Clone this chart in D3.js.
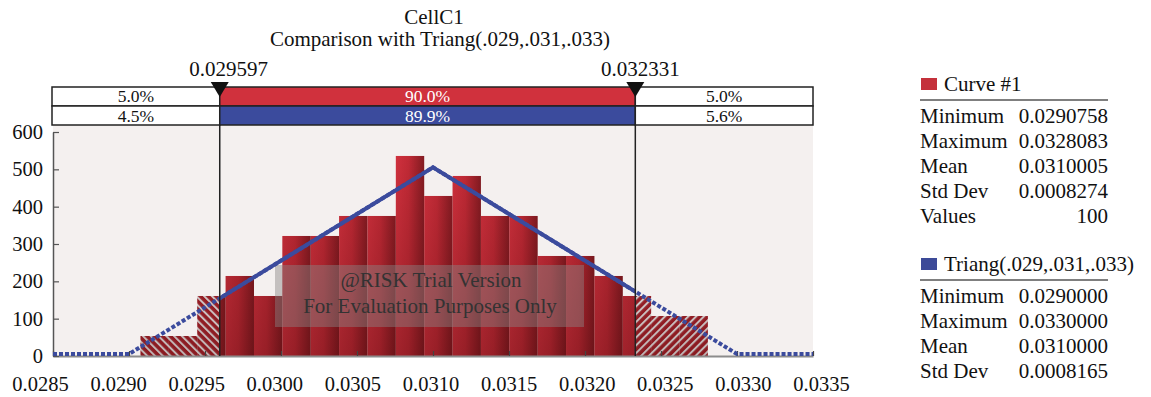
<!DOCTYPE html>
<html>
<head>
<meta charset="utf-8">
<script src="https://cdn.jsdelivr.net/npm/d3@7/dist/d3.min.js"></script>
<style>
    body { margin: 0; background: #fff; }
    svg text { font-family: "Liberation Serif", "Times New Roman", serif; fill: #111; }
</style>
</head>
<body>
<div id="chart"></div>
<script>
// histogram of the 100 simulated values, 20 equal bins between min and max
var binCounts = [1, 1, 3, 4, 3, 6, 6, 7, 7, 10, 8, 9, 7, 7, 5, 5, 4, 3, 2, 2];
var sampleMin = 0.0290758,
    sampleMax = 0.0328083,
    sampleN = 100;

// Triang(.029,.031,.033) density outline
var triangX = [0.0285, 0.029, 0.031, 0.033, 0.0335];
var triangY = [0, 0, 500, 0, 0];

// 5% / 95% delimiters
var cutLow = 0.029597,
    cutHigh = 0.032331;
var bandCurve = ["5.0%", "90.0%", "5.0%"];
var bandTriang = ["4.5%", "89.9%", "5.6%"];

var xTicks = [0.0285, 0.0290, 0.0295, 0.0300, 0.0305, 0.0310, 0.0315, 0.0320, 0.0325, 0.0330, 0.0335];
var yTicks = [0, 100, 200, 300, 400, 500, 600];

var curveStatNames = ["Minimum", "Maximum", "Mean", "Std Dev", "Values"];
var curveStatValues = ["0.0290758", "0.0328083", "0.0310005", "0.0008274", "100"];
var triangStatNames = ["Minimum", "Maximum", "Mean", "Std Dev"];
var triangStatValues = ["0.0290000", "0.0330000", "0.0310000", "0.0008165"];


function renderChart(position) {
    var width = 1151,
        height = 397;

    var svg = d3.select("#" + position)
        .append("svg")
        .attr("width", width)
        .attr("height", height);

    var x = d3.scaleLinear().domain([0.0285, 0.0335]).range([53, 813]);
    // labels in the picture sit a little wider apart than the ticks
    var xLab = d3.scaleLinear().domain([0.0285, 0.0335]).range([40, 821]);
    var y = d3.scaleLinear().domain([0, 600]).range([356, 132]);

    var red = "#d0313d",
        blue = "#3b4b9d";

    var defs = svg.append("defs");

    // bar shading: bright on the left, dark on the right
    var gh = defs.append("linearGradient").attr("id", "barGrad")
        .attr("x1", 0).attr("x2", 1).attr("y1", 0).attr("y2", 0);
    gh.append("stop").attr("offset", "0%").attr("stop-color", "#d5323f");
    gh.append("stop").attr("offset", "45%").attr("stop-color", "#c52b37");
    gh.append("stop").attr("offset", "100%").attr("stop-color", "#861c23");

    // darker towards the base
    var gv = defs.append("linearGradient").attr("id", "baseShade")
        .attr("gradientUnits", "userSpaceOnUse")
        .attr("x1", 0).attr("x2", 0).attr("y1", y(600)).attr("y2", y(0));
    gv.append("stop").attr("offset", "0%").attr("stop-color", "#2a0000").attr("stop-opacity", 0);
    gv.append("stop").attr("offset", "100%").attr("stop-color", "#2a0000").attr("stop-opacity", 0.3);

    function hatch(id, angle) {
        var p = defs.append("pattern").attr("id", id)
            .attr("patternUnits", "userSpaceOnUse")
            .attr("width", 5.5).attr("height", 5.5)
            .attr("patternTransform", "rotate(" + angle + ")");
        p.append("rect").attr("width", 5.5).attr("height", 5.5).attr("fill", "#b3262f");
        p.append("line").attr("x1", 1).attr("x2", 1).attr("y1", 0).attr("y2", 5.5)
            .attr("stroke", "#fff").attr("stroke-width", 2);
    }
    hatch("hatchL", -45);
    hatch("hatchR", 45);

    defs.append("clipPath").attr("id", "midClip")
        .append("rect")
        .attr("x", x(cutLow)).attr("y", 0)
        .attr("width", x(cutHigh) - x(cutLow)).attr("height", height);
    defs.append("clipPath").attr("id", "leftClip")
        .append("rect")
        .attr("x", 0).attr("y", 0)
        .attr("width", x(cutLow)).attr("height", height);
    defs.append("clipPath").attr("id", "rightClip")
        .append("rect")
        .attr("x", x(cutHigh)).attr("y", 0)
        .attr("width", width - x(cutHigh)).attr("height", height);

    // titles
    svg.append("text").attr("x", 434).attr("y", 24)
        .attr("text-anchor", "middle").style("font-size", "21px").text("CellC1");
    svg.append("text").attr("x", 440).attr("y", 46)
        .attr("text-anchor", "middle").style("font-size", "21px")
        .text("Comparison with Triang(.029,.031,.033)");

    // plot background
    svg.append("rect")
        .attr("x", x(0.0285)).attr("y", 125)
        .attr("width", x(0.0335) - x(0.0285)).attr("height", y(0) - 125)
        .attr("fill", "#f4f0ef");

    // histogram bins
    var binW = (sampleMax - sampleMin) / binCounts.length;
    var bins = binCounts.map(function (c, i) {
        return {x0: sampleMin + i * binW, x1: sampleMin + (i + 1) * binW, dens: c / (sampleN * binW)};
    });

    function drawBars(clip, fill) {
        var g = svg.append("g").attr("clip-path", "url(#" + clip + ")");
        g.selectAll("rect.bar")
            .data(bins)
            .enter().append("rect")
            .attr("class", "bar")
            .attr("x", function (d) { return x(d.x0); })
            .attr("width", function (d) { return x(d.x1) - x(d.x0); })
            .attr("y", function (d) { return y(d.dens); })
            .attr("height", function (d) { return y(0) - y(d.dens); })
            .attr("fill", fill);
        g.selectAll("rect.shade")
            .data(bins)
            .enter().append("rect")
            .attr("class", "shade")
            .attr("x", function (d) { return x(d.x0); })
            .attr("width", function (d) { return x(d.x1) - x(d.x0); })
            .attr("y", function (d) { return y(d.dens); })
            .attr("height", function (d) { return y(0) - y(d.dens); })
            .attr("fill", "url(#baseShade)");
    }
    drawBars("leftClip", "url(#hatchL)");
    drawBars("rightClip", "url(#hatchR)");
    drawBars("midClip", "url(#barGrad)");

    // trial watermark
    svg.append("rect")
        .attr("x", 275).attr("y", 265).attr("width", 309).attr("height", 62)
        .attr("fill", "#8a8585").attr("opacity", 0.45);
    svg.append("text").attr("x", 431).attr("y", 287)
        .attr("text-anchor", "middle").style("font-size", "21px").style("fill", "#333")
        .text("@RISK Trial Version");
    svg.append("text").attr("x", 430).attr("y", 313)
        .attr("text-anchor", "middle").style("font-size", "21px").style("fill", "#333")
        .text("For Evaluation Purposes Only");

    // axes
    var xAxis = svg.append("g")
        .attr("transform", "translate(0," + y(0) + ")")
        .call(d3.axisBottom(x).tickValues(xTicks).tickSize(-5).tickSizeOuter(0).tickFormat(""));
    xAxis.select(".domain").attr("stroke", "#8c8c8c").attr("stroke-width", 2);
    xAxis.selectAll(".tick line").attr("stroke", "#444").attr("stroke-width", 1.2);

    var xLabels = svg.append("g")
        .attr("transform", "translate(0," + y(0) + ")")
        .call(d3.axisBottom(xLab).tickValues(xTicks).tickSize(0).tickFormat(d3.format(".4f")));
    xLabels.select(".domain").remove();
    xLabels.selectAll("text").attr("y", 20).style("font-size", "20.5px")
        .style("font-family", "'Liberation Serif', serif").attr("fill", "#111");

    var yAxis = svg.append("g")
        .attr("transform", "translate(" + x(0.0285) + ",0)")
        .call(d3.axisLeft(y).tickValues(yTicks).tickSize(-6).tickSizeOuter(0).tickPadding(10));
    yAxis.select(".domain").attr("stroke", "#555").attr("stroke-width", 1.5);
    yAxis.selectAll(".tick line").attr("stroke", "#555").attr("stroke-width", 1.2);
    yAxis.selectAll("text").style("font-size", "20.5px")
        .style("font-family", "'Liberation Serif', serif").attr("fill", "#111");

    // triangular distribution: dashed outside the delimiters, solid inside
    var pts = triangX.map(function (v, i) { return [v, triangY[i]]; });
    var line = d3.line()
        .x(function (d) { return x(d[0]); })
        .y(function (d) { return y(d[1]) - 2; });
    svg.append("path")
        .attr("d", line(pts))
        .attr("fill", "none")
        .attr("stroke", blue)
        .attr("stroke-width", 4)
        .attr("stroke-dasharray", "4,2");
    svg.append("path")
        .attr("d", line(pts))
        .attr("clip-path", "url(#midClip)")
        .attr("fill", "none")
        .attr("stroke", blue)
        .attr("stroke-width", 4)
        .attr("stroke-linejoin", "round");

    // delimiter lines
    [cutLow, cutHigh].forEach(function (c) {
        svg.append("line")
            .attr("x1", x(c)).attr("x2", x(c))
            .attr("y1", 87).attr("y2", y(0))
            .attr("stroke", "#222").attr("stroke-width", 1.5);
    });

    // percentage band
    var edges = [x(0.0285) - 1, x(cutLow), x(cutHigh), x(0.0335)];
    function bandRow(labels, top, midColor, baseline) {
        for (var i = 0; i < 3; i++) {
            svg.append("rect")
                .attr("x", edges[i]).attr("y", top)
                .attr("width", edges[i + 1] - edges[i]).attr("height", 19)
                .attr("fill", i === 1 ? midColor : "#fff")
                .attr("stroke", "#222").attr("stroke-width", 1.5);
            svg.append("text")
                .attr("x", (edges[i] + edges[i + 1]) / 2).attr("y", baseline)
                .attr("text-anchor", "middle").style("font-size", "17.5px")
                .style("fill", i === 1 ? "#fff" : "#111")
                .text(labels[i]);
        }
    }
    bandRow(bandCurve, 87, red, 102);
    bandRow(bandTriang, 106, blue, 122);

    // delimiter markers
    [cutLow, cutHigh].forEach(function (c, i) {
        var cx = x(c);
        svg.append("path")
            .attr("d", "M" + (cx - 9) + ",82L" + (cx + 9) + ",82L" + cx + ",97Z")
            .attr("fill", "#111");
        svg.append("text")
            .attr("x", cx + (i === 0 ? 9 : 5)).attr("y", 76)
            .attr("text-anchor", "middle").style("font-size", "21px")
            .text(d3.format(".6f")(c));
    });

    // statistics legend
    function statBlock(title, color, names, values, top) {
        var g = svg.append("g").attr("transform", "translate(0," + top + ")");
        g.append("rect").attr("x", 921).attr("y", -13).attr("width", 16).attr("height", 12).attr("fill", color);
        g.append("text").attr("x", 944).attr("y", 0).style("font-size", "21px").text(title);
        g.append("line").attr("x1", 920).attr("x2", 1108).attr("y1", 9).attr("y2", 9)
            .attr("stroke", "#555").attr("stroke-width", 1.5);
        names.forEach(function (n, i) {
            g.append("text").attr("x", 920).attr("y", 32 + i * 25)
                .style("font-size", "21px").text(n);
            g.append("text").attr("x", 1108).attr("y", 32 + i * 25)
                .attr("text-anchor", "end").style("font-size", "21px").text(values[i]);
        });
    }
    statBlock("Curve #1", "#c4313b", curveStatNames, curveStatValues, 91);
    statBlock("Triang(.029,.031,.033)", "#3c4a98", triangStatNames, triangStatValues, 271);
}

renderChart("chart");
</script>
</body>
</html>
